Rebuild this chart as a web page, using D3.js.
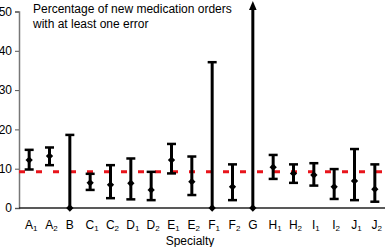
<!DOCTYPE html>
<html>
<head>
<meta charset="utf-8">
<script src="https://cdn.jsdelivr.net/npm/d3@7"></script>
<style>
  body { margin: 0; background: #fff; }
  text { font-family: 'Liberation Sans', Arial, sans-serif; }
</style>
</head>
<body>
<div id="chart"></div>
<script>
// values (percent)
const categories = ['A1', 'A2', 'B', 'C1', 'C2', 'D1', 'D2', 'E1', 'E2', 'F1', 'F2', 'G', 'H1', 'H2', 'I1', 'I2', 'J1', 'J2']
const means = [12.2, 13.2, 0, 6.4, 5.9, 6.3, 4.6, 12.2, 6.7, 0, 5.4, 0, 10.4, 8.8, 8.4, 5.4, 6.9, 4.8]
const lows = [9.8, 10.9, 0, 4.6, 2.5, 2.2, 2.0, 8.8, 3.3, 0, 2.0, 0, 7.4, 6.4, 5.7, 2.3, 2.0, 1.6]
const highs = [14.8, 15.4, 18.6, 8.7, 10.9, 12.6, 9.2, 16.3, 13.1, 37.1, 11.1, 52.7, 13.5, 11.1, 11.4, 9.9, 15.0, 11.1]
const openEnded = ['G']
const overall = 9.2
const yTicks = [0, 10, 20, 30, 40, 50]

const width = 388,
  height = 247,
  margin = { top: 11.5, right: 3, bottom: 39, left: 19 }

const svg = d3
  .select('#chart')
  .append('svg')
  .attr('width', width)
  .attr('height', height)

const x = d3
  .scaleBand()
  .domain(categories)
  .range([margin.left, width - margin.right])

const y = d3
  .scaleLinear()
  .domain([0, 50])
  .range([height - margin.bottom, margin.top])

const data = categories.map(function(c, i) {
  return { cat: c, mean: means[i], low: lows[i], high: highs[i] }
})

// y axis
const yAxis = svg
  .append('g')
  .attr('transform', 'translate(' + margin.left + ',0)')
  .call(d3.axisLeft(y).tickValues(yTicks).tickSize(4).tickPadding(3))
yAxis.select('.domain').attr('stroke', '#777').attr('stroke-width', 1.5)
yAxis.selectAll('.tick line').attr('stroke', '#555')
yAxis
  .selectAll('.tick text')
  .attr('font-size', 12)
  .attr('fill', '#000')
  .attr('font-family', "'Liberation Sans', Arial, sans-serif")

// overall average line
svg
  .append('line')
  .attr('x1', margin.left)
  .attr('x2', width - margin.right)
  .attr('y1', y(overall))
  .attr('y2', y(overall))
  .attr('stroke', '#e8141b')
  .attr('stroke-width', 3)
  .attr('stroke-dasharray', '6,11')

// x axis line
svg
  .append('line')
  .attr('x1', margin.left)
  .attr('x2', width - margin.right)
  .attr('y1', y(0))
  .attr('y2', y(0))
  .attr('stroke', '#222')
  .attr('stroke-width', 1.5)

const bars = svg
  .append('g')
  .selectAll('g')
  .data(data)
  .enter()
  .append('g')
  .attr('transform', function(d) {
    return 'translate(' + (x(d.cat) + x.bandwidth() / 2) + ',0)'
  })

bars
  .append('line')
  .attr('y1', function(d) {
    return y(d.low)
  })
  .attr('y2', function(d) {
    return openEnded.includes(d.cat) ? y(d.high) + 6 : y(d.high)
  })
  .attr('stroke', '#000')
  .attr('stroke-width', 3)

// arrow heads on open-ended intervals
bars
  .filter(function(d) {
    return openEnded.includes(d.cat)
  })
  .append('path')
  .attr('d', function(d) {
    const t = y(d.high)
    return 'M-3.8,' + (t + 9) + 'L0,' + t + 'L3.8,' + (t + 9) + 'Z'
  })
  .attr('fill', '#000')

// caps
bars
  .selectAll('.cap')
  .data(function(d) {
    const caps = []
    if (d.low > 0) caps.push(d.low)
    if (!openEnded.includes(d.cat)) caps.push(d.high)
    return caps
  })
  .enter()
  .append('line')
  .attr('class', 'cap')
  .attr('x1', -4.5)
  .attr('x2', 4.5)
  .attr('y1', function(v) {
    return y(v)
  })
  .attr('y2', function(v) {
    return y(v)
  })
  .attr('stroke', '#000')
  .attr('stroke-width', 2.5)

// mean diamonds
bars
  .append('path')
  .attr('d', d3.symbol().type(d3.symbolDiamond2).size(34))
  .attr('transform', function(d) {
    return 'translate(0,' + y(d.mean) + ')'
  })
  .attr('fill', '#000')

// category labels with subscripts
const lab = svg
  .append('g')
  .selectAll('text')
  .data(categories)
  .enter()
  .append('text')
  .attr('x', function(d) {
    return x(d) + x.bandwidth() / 2 + (d.length > 1 ? 2 : 0)
  })
  .attr('y', 229)
  .attr('text-anchor', 'middle')
  .attr('font-size', 12)
  .text(function(d) {
    return d[0]
  })
lab
  .append('tspan')
  .attr('font-size', 8)
  .attr('dy', 2)
  .text(function(d) {
    return d.slice(1)
  })

svg
  .append('text')
  .attr('x', 190)
  .attr('y', 245)
  .attr('text-anchor', 'middle')
  .attr('font-size', 12)
  .text('Specialty')

const title = svg
  .append('text')
  .attr('x', 33)
  .attr('font-size', 12)
title.append('tspan').attr('x', 33).attr('y', 13).text('Percentage of new medication orders')
title.append('tspan').attr('x', 33).attr('y', 28).text('with at least one error')
</script>
</body>
</html>
